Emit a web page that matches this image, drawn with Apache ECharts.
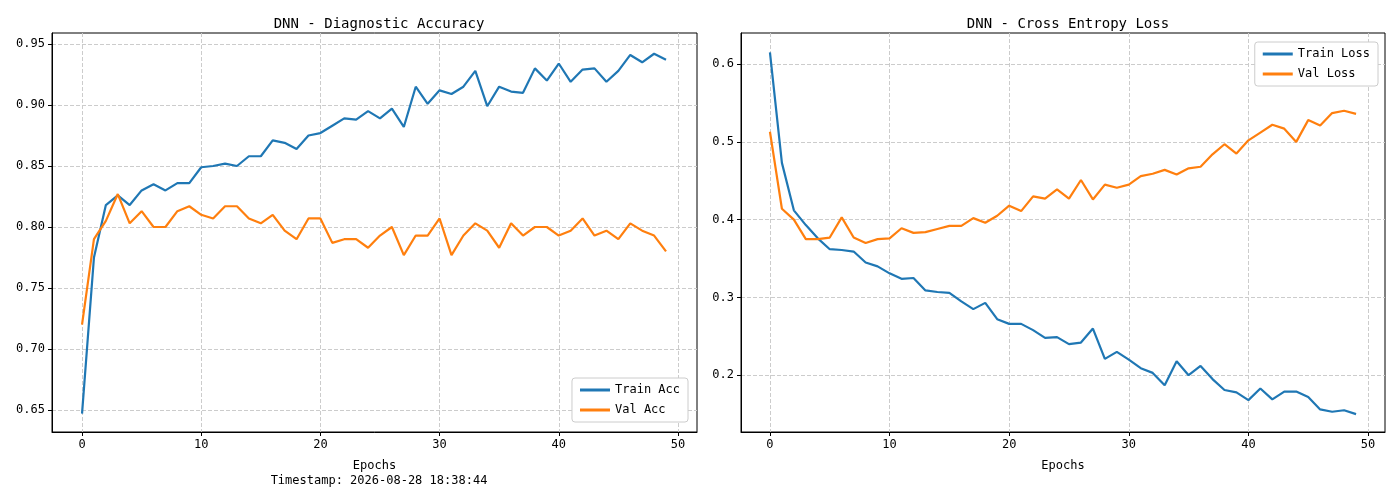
<!DOCTYPE html>
<html>
<head>
<meta charset="utf-8">
<script src="https://cdn.jsdelivr.net/npm/echarts@6/dist/echarts.min.js"></script>
<style>html,body{margin:0;padding:0;background:#fff}#main{width:1400px;height:500px}</style>
</head>
<body>
<div id="main"></div>
<script>
// epochs 0..49
var epochs = [];
for (var i = 0; i < 50; i++) epochs.push(i);

var trainAcc = [0.647,0.775,0.818,0.826,0.818,0.830,0.835,0.830,0.836,0.836,0.849,0.850,0.852,0.850,0.858,0.858,0.871,0.869,0.864,0.875,0.877,0.883,0.889,0.888,0.895,0.889,0.897,0.882,0.915,0.901,0.912,0.909,0.915,0.928,0.899,0.915,0.911,0.910,0.930,0.920,0.934,0.919,0.929,0.930,0.919,0.928,0.941,0.935,0.942,0.937];
var valAcc = [0.720,0.790,0.805,0.827,0.803,0.813,0.800,0.800,0.813,0.817,0.810,0.807,0.817,0.817,0.807,0.803,0.810,0.797,0.790,0.807,0.807,0.787,0.790,0.790,0.783,0.793,0.800,0.777,0.793,0.793,0.807,0.777,0.793,0.803,0.797,0.783,0.803,0.793,0.800,0.800,0.793,0.797,0.807,0.793,0.797,0.790,0.803,0.797,0.793,0.780];
var trainLoss = [0.615,0.473,0.412,0.393,0.376,0.362,0.361,0.359,0.345,0.340,0.331,0.324,0.325,0.309,0.307,0.306,0.295,0.285,0.293,0.272,0.266,0.266,0.258,0.248,0.249,0.240,0.242,0.260,0.221,0.230,0.220,0.209,0.203,0.187,0.218,0.200,0.212,0.195,0.181,0.178,0.168,0.183,0.169,0.179,0.179,0.172,0.156,0.153,0.155,0.150];
var valLoss = [0.513,0.414,0.400,0.375,0.375,0.377,0.403,0.377,0.370,0.375,0.376,0.389,0.383,0.384,0.388,0.392,0.392,0.402,0.396,0.405,0.418,0.411,0.430,0.427,0.439,0.427,0.451,0.426,0.445,0.441,0.445,0.456,0.459,0.464,0.458,0.466,0.468,0.484,0.497,0.485,0.502,0.512,0.522,0.517,0.500,0.528,0.521,0.537,0.540,0.536];

var xTicks = [0,10,20,30,40,50];
var accTicks = [0.65,0.70,0.75,0.80,0.85,0.90,0.95];
var lossTicks = [0.2,0.3,0.4,0.5,0.6];

var FONT = "DejaVu Sans Mono";
var blue = '#1f77b4', orange = '#ff7f0e';

function pairs(ys){
	var out = [];
	for (var i = 0; i < ys.length; i++) out.push([epochs[i], ys[i]]);
	return out;
}

function xAxisOf(idx, min, max){
	return {
		type:'value', gridIndex:idx, min:min, max:max,
		name:'Epochs', nameLocation:'middle', nameGap:28,
		nameTextStyle:{color:'#000', fontSize:12, fontFamily:FONT},
		axisLine:{onZero:false, lineStyle:{color:'#000'}},
		axisTick:{customValues:xTicks, length:4, lineStyle:{color:'#000'}},
		axisLabel:{customValues:xTicks, color:'#000', fontSize:12, fontFamily:FONT, margin:7},
		splitLine:{show:true, lineStyle:{type:'dashed', color:'#cccccc'}}
	};
}
function yAxisOf(idx, min, max, ticks, dec){
	return {
		type:'value', gridIndex:idx, min:min, max:max,
		axisLine:{show:true, onZero:false, lineStyle:{color:'#000'}},
		axisTick:{show:true, customValues:ticks, length:4, lineStyle:{color:'#000'}},
		axisLabel:{customValues:ticks, color:'#000', fontSize:12, fontFamily:FONT, margin:7,
			formatter:function(v){ return v.toFixed(dec); }},
		splitLine:{show:true, lineStyle:{type:'dashed', color:'#cccccc'}}
	};
}
function line(name, data, color, xi){
	return {name:name, type:'line', xAxisIndex:xi, yAxisIndex:xi, data:pairs(data),
		showSymbol:false, symbol:'none', lineStyle:{color:color, width:2.2}, itemStyle:{color:color}};
}

var chart = echarts.init(document.getElementById('main'));
chart.setOption({
	animation:false,
	backgroundColor:'#fff',
	title:[
		{text:'DNN - Diagnostic Accuracy', left:374, top:12, textAlign:'center', textStyle:{fontSize:14, fontWeight:'normal', fontFamily:FONT, color:'#000'}},
		{text:'DNN - Cross Entropy Loss', left:1063, top:12, textAlign:'center', textStyle:{fontSize:14, fontWeight:'normal', fontFamily:FONT, color:'#000'}},
		{text:'Timestamp: 2026-08-28 18:38:44', left:374, top:470, textAlign:'center', textStyle:{fontSize:12, fontWeight:'normal', fontFamily:FONT, color:'#000'}}
	],
	grid:[
		{left:52, top:33, width:645, height:399, show:true, borderColor:'#000', borderWidth:1},
		{left:741, top:33, width:644, height:399, show:true, borderColor:'#000', borderWidth:1}
	],
	legend:[
		{data:['Train Acc','Val Acc'], orient:'vertical', right:712, top:378, itemWidth:30, itemHeight:3, itemGap:8,
			icon:'rect', padding:[6,8], borderColor:'#ccc', borderWidth:1, borderRadius:3, backgroundColor:'#fff',
			textStyle:{fontFamily:FONT, fontSize:12, color:'#000'}},
		{data:['Train Loss','Val Loss'], orient:'vertical', right:22, top:42, itemWidth:30, itemHeight:3, itemGap:8,
			icon:'rect', padding:[6,8], borderColor:'#ccc', borderWidth:1, borderRadius:3, backgroundColor:'#fff',
			textStyle:{fontFamily:FONT, fontSize:12, color:'#000'}}
	],
	xAxis:[xAxisOf(0,-2.52,51.6), xAxisOf(1,-2.42,51.42)],
	yAxis:[yAxisOf(0,0.632,0.959,accTicks,2), yAxisOf(1,0.127,0.640,lossTicks,1)],
	series:[
		line('Train Acc', trainAcc, blue, 0),
		line('Val Acc', valAcc, orange, 0),
		line('Train Loss', trainLoss, blue, 1),
		line('Val Loss', valLoss, orange, 1)
	]
});
</script>
</body>
</html>
